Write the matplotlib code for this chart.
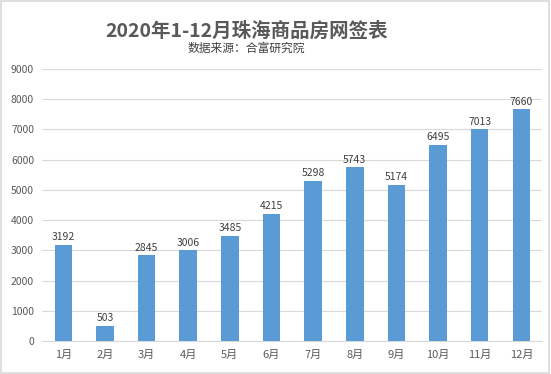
import matplotlib
matplotlib.use("Agg")
import matplotlib.pyplot as plt
from matplotlib.patches import Rectangle

plt.rcParams['font.family'] = ['Noto Sans CJK SC', 'DejaVu Sans']

months = ['1月', '2月', '3月', '4月', '5月', '6月', '7月', '8月', '9月', '10月', '11月', '12月']
values = [3192, 503, 2845, 3006, 3485, 4215, 5298, 5743, 5174, 6495, 7013, 7660]
yticks = [0, 1000, 2000, 3000, 4000, 5000, 6000, 7000, 8000, 9000]

fig = plt.figure(figsize=(5.51, 3.74), dpi=100)
fig.patches.append(Rectangle((0.002, 0.003), 0.995, 0.994, transform=fig.transFigure,
                             fill=False, edgecolor='#d9d9d9', linewidth=1.2))
ax = fig.add_axes([0.077, 0.088, 0.907, 0.728])

x = range(len(months))
bars = ax.bar(x, values, width=0.42, color='#5B9BD5', zorder=3)
for xi, v in zip(x, values):
    ax.text(xi, v + 80, str(v), ha='center', va='bottom', fontsize=7.5, color='#404040')

ax.set_xlim(-0.5, len(months) - 0.5)
ax.set_ylim(0, 9000)
ax.set_yticks(yticks)
ax.set_yticklabels([str(t) for t in yticks], fontsize=7.5, color='#595959')
ax.set_xticks(list(x))
ax.set_xticklabels(months, fontsize=8, color='#595959')
ax.grid(axis='y', color='#d9d9d9', linewidth=0.8, zorder=0)
for s in ['top', 'right', 'left']:
    ax.spines[s].set_visible(False)
ax.spines['bottom'].set_color('#d9d9d9')
ax.tick_params(axis='both', length=0, pad=6)

fig.text(0.448, 0.918, '2020年1-12月珠海商品房网签表', ha='center', va='center',
         fontsize=14, fontweight='bold', color='#595959')
fig.text(0.447, 0.871, '数据来源：合富研究院', ha='center', va='center',
         fontsize=8.5, color='#404040')

fig.savefig('out.png', dpi=100)
